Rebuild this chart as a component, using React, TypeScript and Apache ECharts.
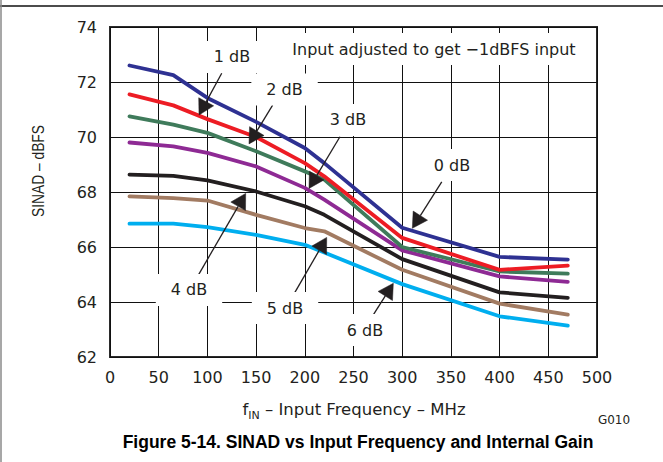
import React, { useEffect, useRef } from 'react';
import * as echarts from 'echarts';

// ---- Data ----
const FREQ_MHZ = [20, 65, 100, 150, 200, 220, 300, 400, 470];
const GAIN_NAMES = ['6 dB', '5 dB', '4 dB', '3 dB', '2 dB', '1 dB', '0 dB'];
const SINAD_6DB = [66.85, 66.85, 66.72, 66.44, 66.08, 65.8, 64.65, 63.48, 63.14];
const SINAD_5DB = [67.84, 67.78, 67.69, 67.17, 66.69, 66.57, 65.17, 63.94, 63.54];
const SINAD_4DB = [68.63, 68.59, 68.42, 68.02, 67.48, 67.17, 65.56, 64.35, 64.15];
const SINAD_3DB = [69.8, 69.66, 69.42, 68.93, 68.15, 67.72, 65.88, 64.93, 64.73];
const SINAD_2DB = [70.75, 70.45, 70.15, 69.48, 68.75, 68.45, 66.0, 65.11, 65.03];
const SINAD_1DB = [71.55, 71.15, 70.65, 70.0, 69.05, 68.57, 66.33, 65.17, 65.32];
const SINAD_0DB = [72.6, 72.25, 71.42, 70.55, 69.6, 69.05, 66.7, 65.64, 65.54];
const SERIES_VALUES = [SINAD_6DB, SINAD_5DB, SINAD_4DB, SINAD_3DB, SINAD_2DB, SINAD_1DB, SINAD_0DB];

const X_MIN = 0;
const X_MAX = 500;
const X_STEP = 50;
const Y_MIN = 62;
const Y_MAX = 74;
const Y_STEP = 2;

const NOTE_TEXT = 'Input adjusted to get \u22121dBFS input';
const X_TITLE_MAIN = 'f';
const X_TITLE_SUB = 'IN';
const X_TITLE_REST = ' \u2013 Input Frequency \u2013 MHz';
const Y_TITLE = 'SINAD \u2013 dBFS';
const FIG_ID = 'G010';
const FIG_TITLE = 'Figure 5-14. SINAD vs Input Frequency and Internal Gain';

// ---- Styles / layout ----
const COLORS = ['#00AEEF', '#A27B62', '#231F20', '#8E2A94', '#3F7B5B', '#ED1C24', '#2E3192'];
const INK = '#231F20';
const LABEL_FONT = '"DejaVu Sans", sans-serif';

// annotation positions, in data space [MHz, dBFS]
const ANNOTATIONS = [
  { text: '1 dB', label: [125.3, 72.91], from: [114.7, 72.32], to: [91.4, 70.8] },
  { text: '2 dB', label: [179.2, 71.73], from: [167.0, 71.16], to: [142.7, 69.75] },
  { text: '3 dB', label: [244.4, 70.62], from: [236.1, 70.01], to: [204.3, 68.13] },
  { text: '0 dB', label: [351.1, 68.98], from: [340.6, 68.37], to: [310.4, 66.68] },
  { text: '4 dB', label: [81.1, 64.44], from: [90.7, 64.98], to: [139.3, 67.95] },
  { text: '5 dB', label: [179.7, 63.78], from: [188.2, 64.25], to: [222.5, 66.35] },
  { text: '6 dB', label: [261.8, 62.98], from: [270.3, 63.53], to: [290.9, 64.68] },
];
const NOTE_POS = [332.6, 73.2];

function boxText(x: number, y: number, text: string, size = 16) {
  return {
    type: 'text',
    x,
    y,
    z: 100,
    style: {
      text,
      fontSize: size,
      fontFamily: LABEL_FONT,
      fill: INK,
      align: 'center',
      verticalAlign: 'middle',
      textAlign: 'center',
      textVerticalAlign: 'middle',
      backgroundColor: '#ffffff',
      padding: [8, 15],
    },
  };
}

export default function App() {
  const ref = useRef<HTMLDivElement>(null);

  useEffect(() => {
    if (!ref.current) return;
    const chart = echarts.init(ref.current, null, { renderer: 'svg' });

    const option: any = {
      animation: false,
      backgroundColor: '#ffffff',
      grid: {
        left: 110,
        right: 66,
        top: 27,
        bottom: 105,
        show: true,
        borderColor: '#2b2b2b',
        borderWidth: 2,
        containLabel: false,
      },
      xAxis: {
        type: 'value',
        min: X_MIN,
        max: X_MAX,
        interval: X_STEP,
        axisLine: { show: false },
        axisTick: { show: false },
        splitLine: { show: true, lineStyle: { color: '#111', width: 1 } },
        axisLabel: { color: INK, fontSize: 16, fontFamily: LABEL_FONT, margin: 12 },
      },
      yAxis: {
        type: 'value',
        min: Y_MIN,
        max: Y_MAX,
        interval: Y_STEP,
        axisLine: { show: false },
        axisTick: { show: false },
        splitLine: { show: true, lineStyle: { color: '#111', width: 1 } },
        axisLabel: { color: INK, fontSize: 16, fontFamily: LABEL_FONT, margin: 13 },
      },
      series: SERIES_VALUES.map((vals, i) => ({
        type: 'line',
        name: GAIN_NAMES[i],
        data: FREQ_MHZ.map((f, j) => [f, vals[j]]),
        symbol: 'none',
        smooth: false,
        lineStyle: { color: COLORS[i], width: 3.8, cap: 'round', join: 'round' },
        z: 3 + i,
      })),
    };
    chart.setOption(option);

    const px = (p: number[]) => chart.convertToPixel({ gridIndex: 0 }, p) as number[];
    const graphics: any[] = [];

    ANNOTATIONS.forEach((a) => {
      const s = px(a.from);
      const t = px(a.to);
      const dx = t[0] - s[0];
      const dy = t[1] - s[1];
      const len = Math.sqrt(dx * dx + dy * dy);
      const ux = dx / len;
      const uy = dy / len;
      const headLen = 15;
      const halfW = 8.5;
      const bx = t[0] - ux * headLen;
      const by = t[1] - uy * headLen;
      const nx = -uy;
      const ny = ux;
      graphics.push({
        type: 'line',
        z: 100,
        shape: { x1: s[0], y1: s[1], x2: bx, y2: by },
        style: { stroke: INK, lineWidth: 1.3 },
      });
      graphics.push({
        type: 'polygon',
        z: 100,
        shape: {
          points: [
            [t[0], t[1]],
            [bx + nx * halfW, by + ny * halfW],
            [bx - nx * halfW, by - ny * halfW],
          ],
        },
        style: { fill: INK, stroke: INK, lineWidth: 0.5 },
      });
      const l = px(a.label);
      graphics.push(boxText(l[0], l[1], a.text));
    });

    const np = px(NOTE_POS);
    graphics.push(boxText(np[0], np[1], NOTE_TEXT));

    // outer frame lines
    graphics.push({
      type: 'line',
      z: 90,
      shape: { x1: 0, y1: 6, x2: 663, y2: 6 },
      style: { stroke: '#111', lineWidth: 1.5 },
    });
    graphics.push({
      type: 'line',
      z: 90,
      shape: { x1: 1, y1: 0, x2: 1, y2: 462 },
      style: { stroke: '#8a8a8a', lineWidth: 1.5 },
    });

    // y axis title (rotated)
    graphics.push({
      type: 'text',
      x: 38,
      y: 171,
      rotation: Math.PI / 2,
      scaleY: 1.25,
      z: 100,
      style: {
        text: Y_TITLE,
        fontSize: 13.8,
        fontFamily: '"Liberation Sans", Arial, sans-serif',
        fill: INK,
        align: 'center',
        verticalAlign: 'middle',
        textAlign: 'center',
        textVerticalAlign: 'middle',
      },
    });

    // x axis title with subscript
    graphics.push({
      type: 'text',
      x: 354,
      y: 409,
      z: 100,
      style: {
        text: '{m|' + X_TITLE_MAIN + '}{s|' + X_TITLE_SUB + '}{m|' + X_TITLE_REST + '}',
        align: 'center',
        verticalAlign: 'middle',
        textAlign: 'center',
        textVerticalAlign: 'middle',
        rich: {
          m: { fontSize: 16.5, fontFamily: LABEL_FONT, fill: INK, color: INK, lineHeight: 24 },
          s: {
            fontSize: 11,
            fontFamily: LABEL_FONT,
            fill: INK,
            color: INK,
            lineHeight: 24,
            verticalAlign: 'bottom',
          },
        },
      },
    });

    graphics.push({
      type: 'text',
      x: 614,
      y: 420,
      z: 100,
      style: {
        text: FIG_ID,
        fontSize: 12,
        fontFamily: LABEL_FONT,
        fill: INK,
        align: 'center',
        verticalAlign: 'middle',
        textAlign: 'center',
        textVerticalAlign: 'middle',
      },
    });

    graphics.push({
      type: 'text',
      x: 358,
      y: 442,
      z: 100,
      style: {
        text: FIG_TITLE,
        fontSize: 17.5,
        fontWeight: 'bold',
        fontFamily: '"Liberation Sans", Arial, sans-serif',
        fill: '#000',
        align: 'center',
        verticalAlign: 'middle',
        textAlign: 'center',
        textVerticalAlign: 'middle',
      },
    });

    chart.setOption({ graphic: { elements: graphics } });

    return () => chart.dispose();
  }, []);

  return (
    <div
      ref={ref}
      style={{ position: 'fixed', left: 0, top: 0, width: 663, height: 462, background: '#fff' }}
    />
  );
}
